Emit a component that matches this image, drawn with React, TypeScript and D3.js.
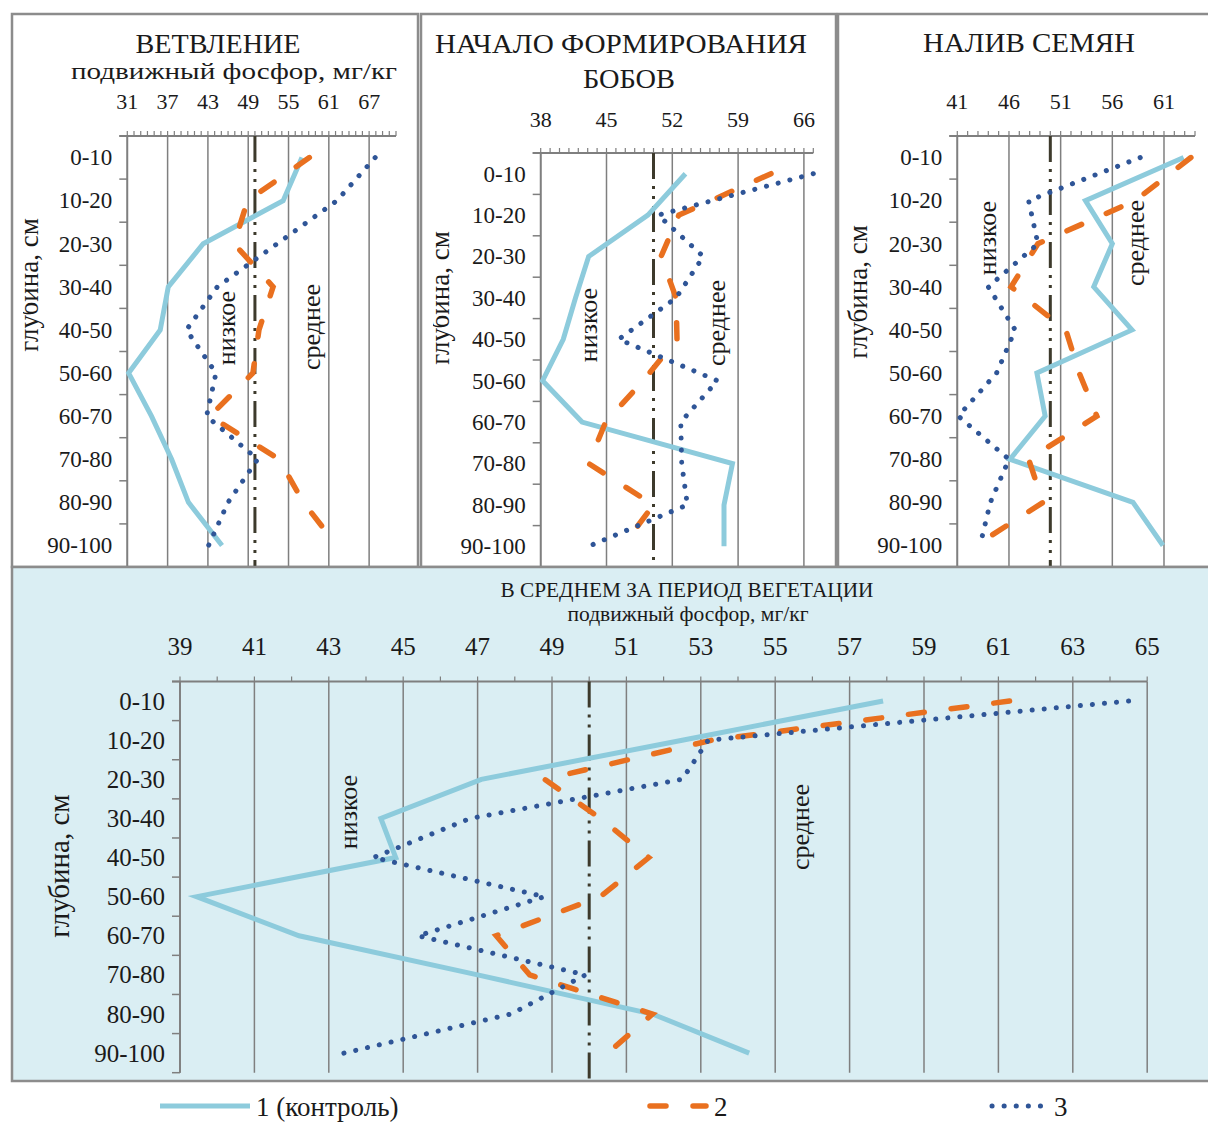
import React from 'react';
import * as d3 from 'd3';

// ---------- DATA ----------
const depths = ['0-10', '10-20', '20-30', '30-40', '40-50', '50-60', '60-70', '70-80', '80-90', '90-100'];

const branchTicks = [31, 37, 43, 49, 55, 61, 67];
const branchControl = [57.0, 54.2, 42.3, 37.1, 35.9, 31.2, 34.6, 37.6, 40.1, 45.1];
const branchV2 = [58.1, 48.9, 46.9, 52.7, 50.6, 49.7, 43.3, 53.6, 57.2, 62.2];
const branchV3 = [67.9, 62.2, 53.3, 44.4, 39.8, 44.2, 42.8, 50.4, 46.0, 43.1];

const podTicks = [38, 45, 52, 59, 66];
const podControl = [53.4, 49.4, 43.1, 41.7, 40.4, 38.2, 42.4, 58.4, 57.5, 57.5];
const podV2 = [62.5, 52.7, 50.8, 52.4, 52.5, 48.9, 44.9, 43.1, 50.0, 46.7];
const podV3 = [67.0, 50.5, 55.3, 52.4, 46.3, 56.8, 52.9, 53.0, 53.6, 43.1];

const seedTicks = [41, 46, 51, 56, 61];
const seedControl = [62.9, 53.4, 56.0, 54.2, 57.9, 48.7, 49.5, 46.1, 58.0, 60.9];
const seedV2 = [63.6, 58.2, 48.8, 46.2, 51.5, 52.8, 54.5, 47.9, 49.3, 42.8];
const seedV3 = [58.7, 47.9, 48.8, 44.0, 46.6, 44.8, 41.1, 46.0, 44.2, 43.2];

const avgTicks = [39, 41, 43, 45, 47, 49, 51, 53, 55, 57, 59, 61, 63, 65];
const avgControl = [57.9, 52.5, 47.1, 44.4, 44.8, 39.45, 42.2, 47.0, 51.7, 54.3];
const avgV2 = [61.3, 53.3, 48.8, 50.3, 51.6, 50.3, 47.5, 48.4, 51.7, 50.5];
const avgV3 = [64.5, 53.2, 52.5, 46.8, 44.2, 48.8, 45.4, 49.9, 47.9, 43.4];

const threshold = 50;
const seriesNames = ['1 (контроль)', '2', '3'];
const yTitle = 'глубина, см';
const lowLabel = 'низкое';
const midLabel = 'среднее';
const unitLabel = 'подвижный фосфор, мг/кг';

// ---------- STYLE ----------
const FONT = '"Liberation Serif", "DejaVu Serif", "Times New Roman", serif';
const TXT = { fontFamily: FONT } as React.CSSProperties;
const GRID = '#7f7f7f';
const FRAME = '#8c8c8c';
const C1 = '#8dcbdc';
const C2 = '#e9701f';
const C3 = '#2f5597';
const THR = '#3d3a2c';
const seriesStyle = [
  { stroke: C1, strokeWidth: 5, strokeDasharray: undefined, strokeLinecap: 'butt' },
  { stroke: C2, strokeWidth: 5.5, strokeDasharray: '16 27', strokeLinecap: 'round' },
  { stroke: C3, strokeWidth: 5, strokeDasharray: '0.1 12', strokeLinecap: 'round' },
];

const panels = [
  {
    id: 'p1',
    frame: { x: 12, y: 14, w: 406, h: 553 },
    plot: { x0: 127.3, x1: 396, y0: 136, y1: 567 },
    domain: [31, 71],
    ticks: branchTicks,
    series: [branchControl, branchV2, branchV3],
    titles: [{ text: 'ВЕТВЛЕНИЕ', x: 218, y: 53, fs: 27, len: 165 }, { text: unitLabel, x: 234, y: 79, fs: 23, len: 326 }],
    tickFs: 22, tickY: 109, catFs: 23,
    yTitle: { x: 38, y: 285, fs: 27, clipX: 23 },
    low: { x: 235, y: 328 }, mid: { x: 320, y: 327 }, rotFs: 26,
  },
  {
    id: 'p2',
    frame: { x: 421, y: 14, w: 415, h: 553 },
    plot: { x0: 540.7, x1: 813.3, y0: 153, y1: 567 },
    domain: [38, 67],
    ticks: podTicks,
    series: [podControl, podV2, podV3],
    titles: [{ text: 'НАЧАЛО ФОРМИРОВАНИЯ', x: 621, y: 53, fs: 27, len: 372 }, { text: 'БОБОВ', x: 629, y: 88, fs: 27, len: 92 }],
    tickFs: 22, tickY: 127, catFs: 23,
    yTitle: { x: 449, y: 298, fs: 27, clipX: 433 },
    low: { x: 597, y: 325 }, mid: { x: 725, y: 323 }, rotFs: 26,
  },
  {
    id: 'p3',
    frame: { x: 838, y: 14, w: 380, h: 553 },
    plot: { x0: 957.3, x1: 1195, y0: 136, y1: 567 },
    domain: [41, 64],
    ticks: seedTicks,
    series: [seedControl, seedV2, seedV3],
    titles: [{ text: 'НАЛИВ  СЕМЯН', x: 1029, y: 52, fs: 27, len: 212 }],
    tickFs: 22, tickY: 109, catFs: 23,
    yTitle: { x: 867, y: 292, fs: 27, clipX: 0 },
    low: { x: 996, y: 238 }, mid: { x: 1144, y: 243 }, rotFs: 26,
  },
  {
    id: 'p4',
    frame: { x: 12, y: 567, w: 1206, h: 514 },
    fill: '#daeef3',
    plot: { x0: 180, x1: 1147.2, y0: 681.5, y1: 1072.7 },
    domain: [39, 65],
    ticks: avgTicks,
    series: [avgControl, avgV2, avgV3],
    titles: [
      { text: 'В СРЕДНЕМ ЗА ПЕРИОД ВЕГЕТАЦИИ', x: 687, y: 597, fs: 21, len: 373 },
      { text: 'подвижный  фосфор, мг/кг', x: 688, y: 621, fs: 20, len: 241 },
    ],
    tickFs: 25, tickY: 655, catFs: 25,
    yTitle: { x: 69, y: 866, fs: 29, clipX: 0 },
    low: { x: 357, y: 812 }, mid: { x: 809, y: 827 }, rotFs: 26,
  },
];

function Panel({ cfg }: { cfg: any }) {
  const { plot, frame } = cfg;
  const x = d3.scaleLinear().domain(cfg.domain).range([plot.x0, plot.x1]);
  const y = d3.scaleBand<string>().domain(depths).range([plot.y0, plot.y1]).padding(0);
  const bw = y.bandwidth();
  const lineGen = d3
    .line<number>()
    .x((v) => x(v))
    .y((_, i) => (y(depths[i]) as number) + bw / 2);
  const minor = d3.range(cfg.domain[0], cfg.domain[1] + 0.001, 1);
  const bounds = depths.map((d) => y(d) as number).concat([plot.y1]);
  const clipId = `clip-${cfg.id}`;
  return (
    <g>
      <defs>
        <clipPath id={clipId}>
          <rect x={cfg.yTitle.clipX || frame.x} y={frame.y} width={frame.w} height={frame.h} />
        </clipPath>
      </defs>
      <rect x={frame.x} y={frame.y} width={frame.w} height={frame.h} fill={cfg.fill || '#ffffff'} stroke={FRAME} strokeWidth={2.5} />
      {cfg.ticks.map((t: number) => (
        <line key={`g${t}`} x1={x(t)} x2={x(t)} y1={plot.y0} y2={plot.y1} stroke={GRID} strokeWidth={1.5} />
      ))}
      <line x1={plot.x0 - 8} x2={plot.x1} y1={plot.y0} y2={plot.y0} stroke={GRID} strokeWidth={1.8} />
      {minor.map((t: number) => (
        <line key={`m${t}`} x1={x(t)} x2={x(t)} y1={plot.y0} y2={plot.y0 - 5} stroke={GRID} strokeWidth={1.2} />
      ))}
      <line x1={plot.x0} x2={plot.x0} y1={plot.y0} y2={plot.y1} stroke={GRID} strokeWidth={1.8} />
      {bounds.map((b, i) => (
        <line key={`b${i}`} x1={plot.x0 - 8} x2={plot.x0} y1={b} y2={b} stroke={GRID} strokeWidth={1.5} />
      ))}
      {cfg.ticks.map((t: number) => (
        <text key={`t${t}`} x={x(t)} y={cfg.tickY} textAnchor="middle" fontSize={cfg.tickFs} style={TXT} fill="#1a1a1a">
          {t}
        </text>
      ))}
      {depths.map((d) => (
        <text
          key={`c${d}`}
          x={plot.x0 - 15}
          y={(y(d) as number) + bw / 2 + cfg.catFs * 0.34}
          textAnchor="end"
          fontSize={cfg.catFs}
          style={TXT}
          fill="#1a1a1a"
        >
          {d}
        </text>
      ))}
      {cfg.titles.map((tt: any, i: number) => (
        <text
          key={`tt${i}`}
          x={tt.x}
          y={tt.y}
          textAnchor="middle"
          fontSize={tt.fs}
          style={TXT}
          fill="#1a1a1a"
          textLength={tt.len}
          lengthAdjust="spacingAndGlyphs"
        >
          {tt.text}
        </text>
      ))}
      <g clipPath={`url(#${clipId})`}>
        <text
          transform={`translate(${cfg.yTitle.x},${cfg.yTitle.y}) rotate(-90)`}
          textAnchor="middle"
          fontSize={cfg.yTitle.fs}
          style={TXT}
          fill="#1a1a1a"
        >
          {yTitle}
        </text>
      </g>
      <text transform={`translate(${cfg.low.x},${cfg.low.y}) rotate(-90)`} textAnchor="middle" fontSize={cfg.rotFs} style={TXT} fill="#1a1a1a">
        {lowLabel}
      </text>
      <text transform={`translate(${cfg.mid.x},${cfg.mid.y}) rotate(-90)`} textAnchor="middle" fontSize={cfg.rotFs} style={TXT} fill="#1a1a1a">
        {midLabel}
      </text>
      <line
        x1={x(threshold)}
        x2={x(threshold)}
        y1={plot.y0}
        y2={frame.y + frame.h - 1}
        stroke={THR}
        strokeWidth={3}
        strokeDasharray="26 7 3 7 3 7"
      />
      {cfg.series.map((vals: number[], i: number) => (
        <path
          key={`s${i}`}
          d={lineGen(vals) || ''}
          fill="none"
          stroke={seriesStyle[i].stroke}
          strokeWidth={seriesStyle[i].strokeWidth}
          strokeDasharray={seriesStyle[i].strokeDasharray}
          strokeLinecap={seriesStyle[i].strokeLinecap as any}
          strokeLinejoin="miter"
        />
      ))}
    </g>
  );
}

function Legend() {
  const items = [
    { x1: 160, x2: 250, tx: 256 },
    { x1: 650, x2: 706, tx: 714 },
    { x1: 992, x2: 1046, tx: 1054 },
  ];
  const ly = 1106;
  return (
    <g>
      {items.map((it, i) => (
        <g key={i}>
          <line
            x1={it.x1}
            x2={it.x2}
            y1={ly}
            y2={ly}
            stroke={seriesStyle[i].stroke}
            strokeWidth={seriesStyle[i].strokeWidth}
            strokeDasharray={seriesStyle[i].strokeDasharray}
            strokeLinecap={seriesStyle[i].strokeLinecap as any}
          />
          <text x={it.tx} y={ly + 10} fontSize={27} style={TXT} fill="#1a1a1a">
            {seriesNames[i]}
          </text>
        </g>
      ))}
    </g>
  );
}

export default function App() {
  return (
    <svg
      width={1208}
      height={1122}
      viewBox="0 0 1208 1122"
      style={{ position: 'absolute', left: 0, top: 0, background: '#ffffff' }}
    >
      <rect x={0} y={0} width={1208} height={1122} fill="#ffffff" />
      {panels.map((p) => (
        <Panel key={p.id} cfg={p} />
      ))}
      <Legend />
    </svg>
  );
}
